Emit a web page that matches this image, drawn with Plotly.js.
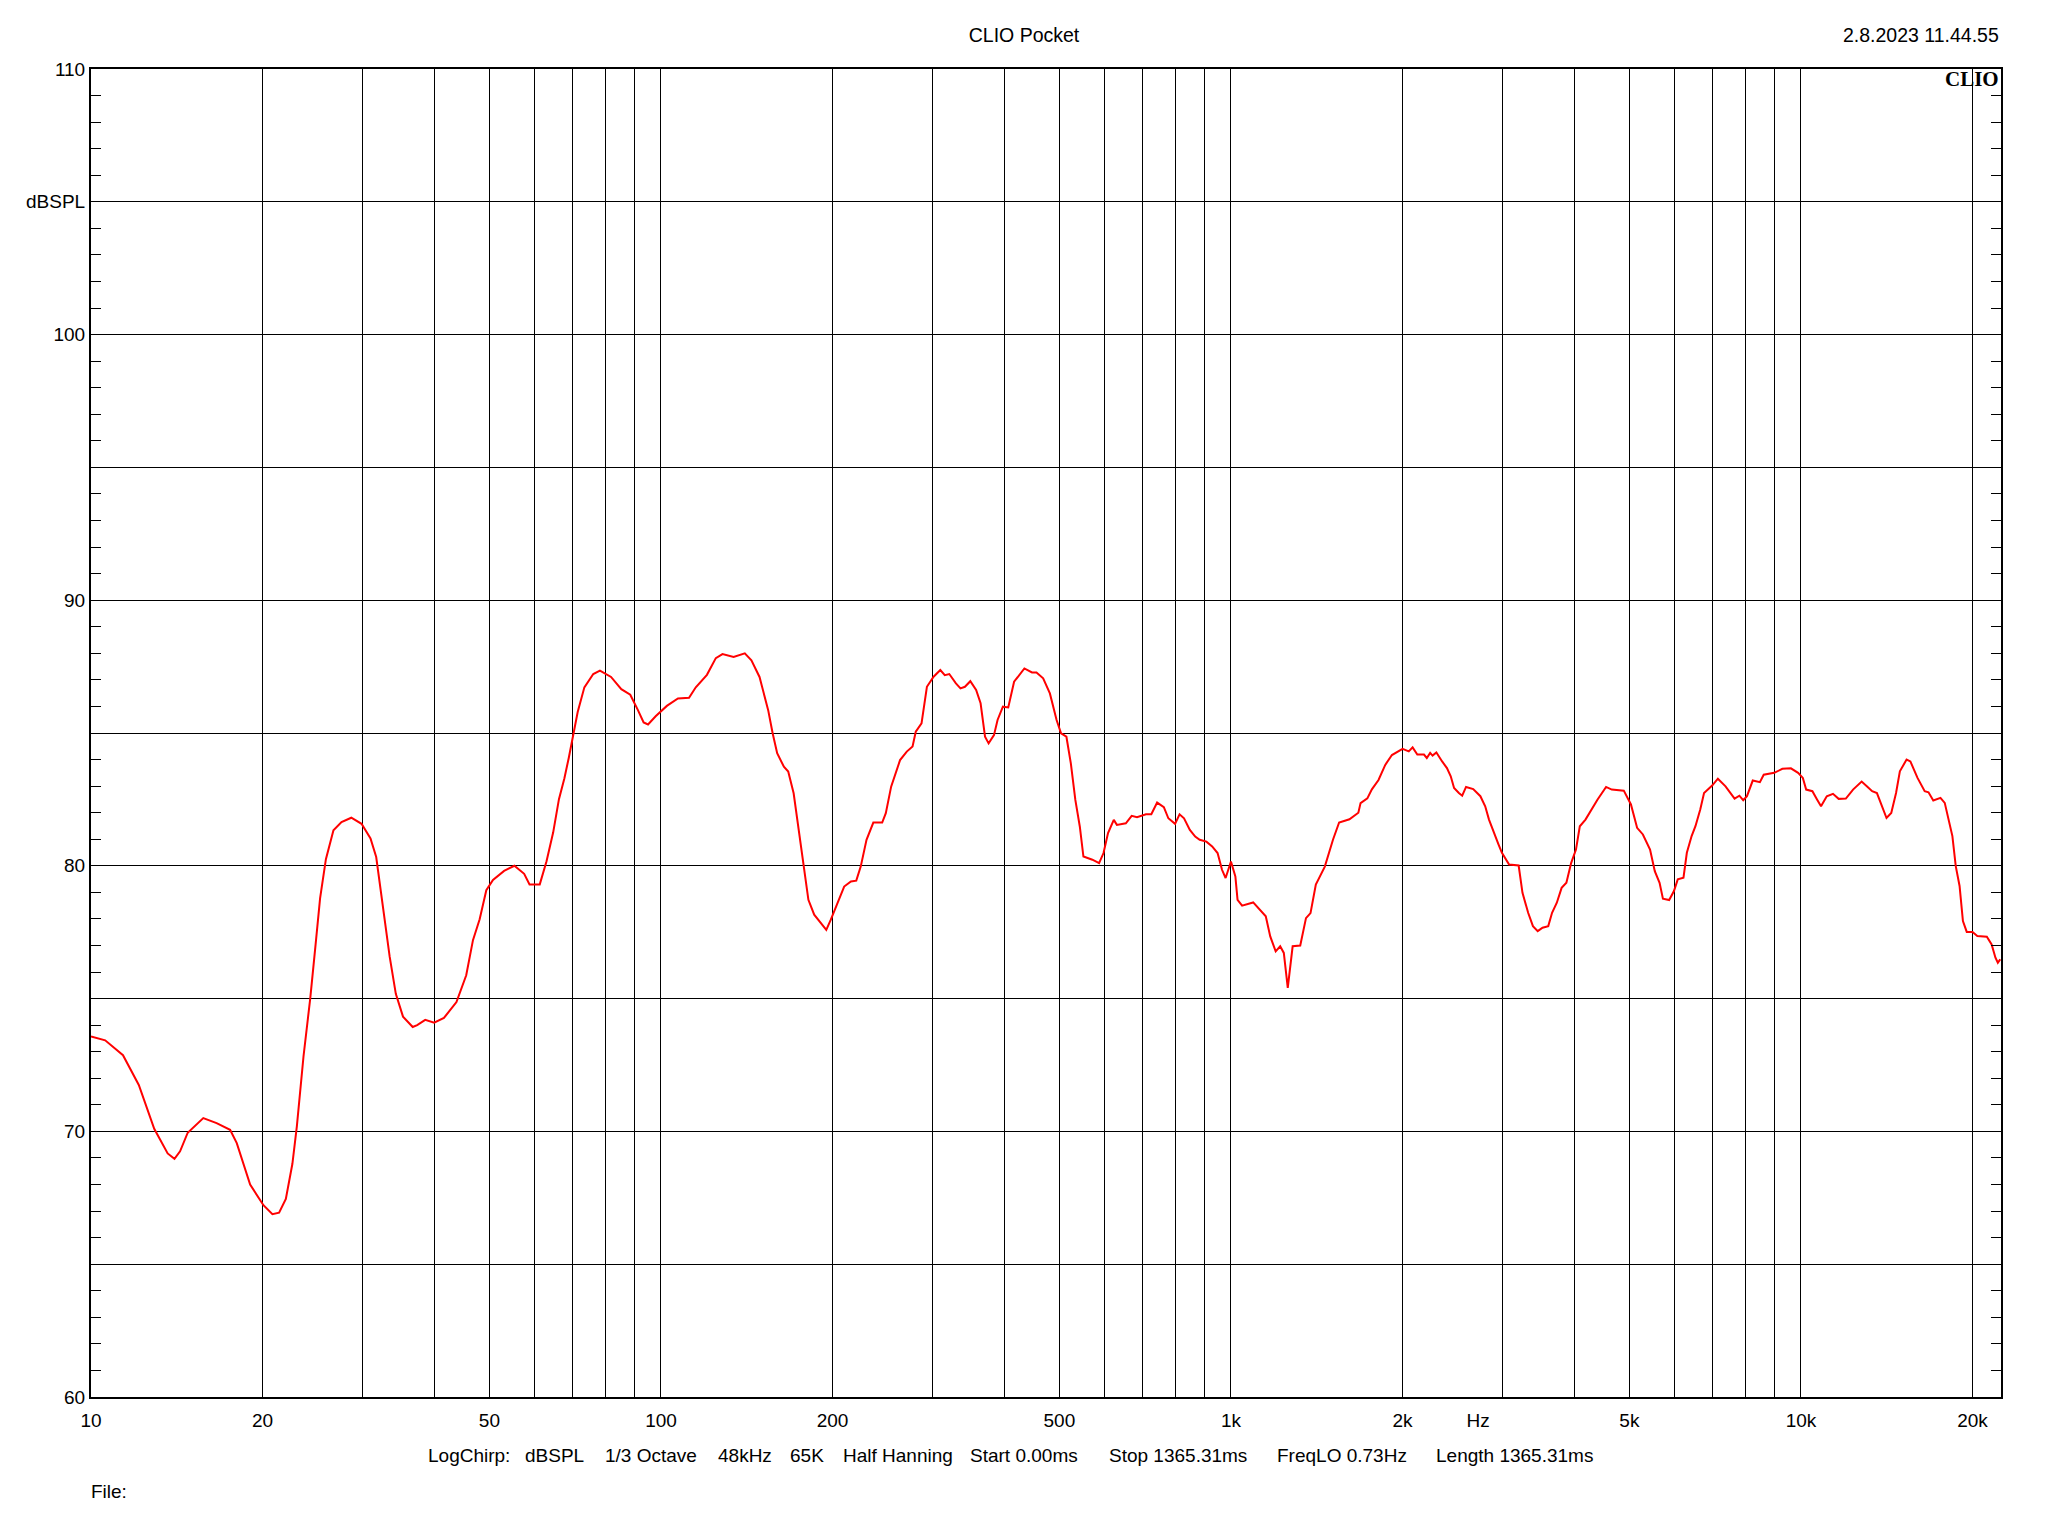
<!DOCTYPE html>
<html>
<head>
<meta charset="utf-8">
<script src="https://cdn.plot.ly/plotly-3.0.1.min.js"></script>
<style>html,body{margin:0;padding:0;background:#fff;}#chart{width:2048px;height:1536px;}</style>
</head>
<body>
<div id="chart"></div>
<script>
// Frequency response (Hz)
const freqHz = [
10.0,10.59,11.38,12.13,12.91,13.63,14.01,14.33,14.78,15.74,16.61,17.54,18.02,19.02,20.07,20.81,21.38,21.97,22.56,22.97,
23.60,24.25,24.78,25.23,25.83,26.63,27.51,28.62,29.83,30.93,31.65,32.34,33.42,34.26,35.27,36.68,37.35,38.58,40.0,41.61,
43.77,45.53,46.79,48.07,49.38,50.73,53.06,55.31,57.54,58.80,61.28,62.98,64.70,66.22,67.68,68.91,70.15,71.43,73.38,76.07,
78.15,81.73,85.19,88.33,91.07,93.23,94.91,97.87,102.4,107.1,112.0,115.1,120.4,124.8,128.2,134.1,140.3,144.1,148.9,
154.2,157.0,159.9,164.3,167.2,170.9,174.0,177.2,178.8,181.4,185.7,189.8,195.0,198.6,204.0,209.6,215.4,220.1,224.1,229.4,
235.8,244.4,248.0,253.4,262.7,269.9,276.3,279.9,286.5,292.8,300.8,309.1,314.7,320.5,329.2,335.3,341.4,348.9,357.2,363.7,
370.3,375.7,383.9,389.5,398.0,406.7,416.4,434.1,447.6,455.8,468.3,481.2,494.4,503.4,514.4,523.7,533.3,543.0,551.0,561.0,
571.3,587.0,597.6,608.6,622.9,630.8,654.0,669.6,684.2,709.4,724.9,742.1,762.5,776.5,797.9,812.5,827.3,847.0,865.5,881.4,
905.5,926.9,947.4,964.5,978.6,1000,1018,1027,1046,1094,1125,1151,1172,1198,1220,1238,1258,1283,1323,1354,
1379,1409,1461,1510,1548,1614,1673,1688,1735,1767,1815,1865,1916,1980,
2000,2051,2083,2123,2181,2206,2236,2258,2293,2347,2393,2430,2463,2511,2545,2585,2661,2739,2793,2836,
2892,2948,2988,3076,3197,3247,3322,3387,3453,3521,3603,3659,3730,3803,3877,3953,4030,4093,4188,4287,
4395,4551,4657,4889,5032,5159,5281,5436,5541,5649,5726,5872,5987,6080,6222,6307,6430,6530,6658,6761,
6986,7150,7374,7649,7798,7920,8041,8231,8472,8604,8978,9276,9603,9886,10078,10214,10474,10678,10845,11100,
11382,11647,11990,12343,12780,13078,13333,13594,13859,14130,14403,14685,14913,15323,15560,16015,16486,16742,17069,17571,
17877,18155,18438,18690,18981,19240,19540,20000,20391,21191,21605,21941,22154,22369
];
// Level (dBSPL)
const splDb = [
73.57,73.43,72.87,71.75,70.1,69.17,68.97,69.25,69.95,70.5,70.31,70.06,69.56,68.0,67.22,66.88,66.94,67.46,68.78,70.19,
72.84,75.02,77.05,78.77,80.25,81.34,81.65,81.81,81.58,81.03,80.33,78.77,76.58,75.18,74.32,73.93,74.0,74.2,74.09,74.27,
74.87,75.88,77.2,77.99,79.08,79.47,79.81,80.0,79.7,79.3,79.3,80.17,81.26,82.51,83.29,84.07,85.0,85.79,86.72,87.22,
87.35,87.11,86.65,86.44,85.87,85.4,85.32,85.63,86.02,86.3,86.33,86.72,87.19,87.82,87.97,87.86,88.0,87.74,87.11,
85.86,84.99,84.24,83.73,83.55,82.73,81.48,80.24,79.72,78.72,78.16,77.91,77.59,77.97,78.6,79.22,79.41,79.44,79.97,80.98,
81.63,81.63,81.98,82.98,83.98,84.30,84.49,85.05,85.36,86.74,87.12,87.37,87.18,87.22,86.87,86.68,86.74,86.95,86.62,86.12,
84.86,84.61,84.92,85.49,85.99,85.96,86.93,87.43,87.28,87.28,87.06,86.49,85.49,84.99,84.86,83.86,82.48,81.48,80.35,80.29,
80.23,80.1,80.48,81.23,81.73,81.54,81.60,81.88,81.83,81.94,81.94,82.38,82.21,81.79,81.58,81.94,81.79,81.35,81.10,80.98,
80.91,80.73,80.48,79.85,79.54,80.16,79.6,78.72,78.50,78.62,78.35,78.10,77.34,76.78,76.97,76.72,75.4,76.97,77.0,78.03,
78.22,79.29,79.97,80.98,81.63,81.75,82.0,82.36,82.54,82.88,83.23,83.80,84.17,84.36,
84.40,84.31,84.46,84.19,84.19,84.06,84.25,84.15,84.27,83.93,83.68,83.37,82.93,82.74,82.64,82.97,82.89,82.62,82.24,81.74,
81.24,80.80,80.49,80.05,80.01,78.98,78.23,77.73,77.54,77.67,77.73,78.23,78.61,79.17,79.36,80.11,80.61,81.49,81.74,82.12,
82.49,82.97,82.87,82.83,82.31,81.43,81.18,80.61,79.80,79.36,78.76,78.71,79.05,79.49,79.55,80.49,81.12,81.49,82.12,82.74,
83.02,83.28,82.99,82.53,82.64,82.47,82.62,83.21,83.15,83.43,83.50,83.65,83.67,83.50,83.31,82.87,82.81,82.49,82.24,82.62,
82.71,82.52,82.53,82.87,83.17,82.98,82.81,82.74,82.24,81.80,81.99,82.74,83.56,84.00,83.93,83.31,82.81,82.77,82.46,82.56,
82.37,81.74,81.12,79.99,79.24,77.92,77.51,77.51,77.36,77.33,77.04,76.54,76.35,76.48
];

// Axis ticks / grid
const xLabelVals = [10,20,50,100,200,500,1000,2000,2713,5000,10000,20000];
const xLabelText = ["10","20","50","100","200","500","1k","2k","Hz","5k","10k","20k"];
const xGridVals = [20,30,40,50,60,70,80,90,100,200,300,400,500,600,700,800,900,1000,2000,3000,4000,5000,6000,7000,8000,9000,10000,20000];
const yTickVals = [60,65,70,75,80,85,90,95,100,105,110];
const yTickText = ["60","","70","","80","","90","","100","dBSPL","110"];

const infoItems = ["LogChirp:","dBSPL","1/3 Octave","48kHz","65K","Half Hanning","Start 0.00ms","Stop 1365.31ms","FreqLO 0.73Hz","Length 1365.31ms"];
const infoPos = [0.17539,0.22618,0.26806,0.32723,0.36492,0.39267,0.45916,0.53194,0.61990,0.70340];

const FONT = "Liberation Sans, Arial, sans-serif";

const annotations = [
  {text:"2.8.2023 11.44.55", xref:"paper", yref:"paper", x:1, y:1.0256, xanchor:"right", yanchor:"middle", showarrow:false, font:{family:FONT,size:19.5,color:"#000"}},
  {text:"<b>CLIO</b>", xref:"paper", yref:"paper", x:1, y:0.9925, xanchor:"right", yanchor:"middle", showarrow:false, font:{family:"Liberation Serif, Times New Roman, serif",size:21,color:"#000"}},
  {text:"File:", xref:"paper", yref:"paper", x:-0.0012, y:-0.0708, xanchor:"left", yanchor:"middle", showarrow:false, font:{family:FONT,size:19,color:"#000"}}
];
infoItems.forEach((t,i)=>annotations.push({text:t, xref:"paper", yref:"paper", x:infoPos[i], y:-0.0444, xanchor:"left", yanchor:"middle", showarrow:false, font:{family:FONT,size:19,color:"#000"}}));

const trace = {x:freqHz, y:splDb, type:"scatter", mode:"lines", line:{color:"#ff0000", width:2}, hoverinfo:"skip"};

const layout = {
  width:2048, height:1536,
  margin:{l:91, r:47, t:69, b:139, pad:0},
  paper_bgcolor:"#ffffff", plot_bgcolor:"#ffffff",
  showlegend:false,
  font:{family:FONT, size:19, color:"#000"},
  title:{text:"CLIO Pocket", xref:"container", yref:"container", x:0.5, y:1-35/1536, xanchor:"center", yanchor:"middle", font:{family:FONT,size:19.5,color:"#000"}},
  xaxis:{
    type:"log", range:[1, 4.351], autorange:false,
    tickmode:"array", tickvals:xLabelVals, ticktext:xLabelText,
    showgrid:false, zeroline:false, ticks:"",
    showline:true, linecolor:"#000", linewidth:2, mirror:true,
    tickfont:{family:FONT,size:19,color:"#000"},
    ticklabelstandoff:5,
    minor:{tickmode:"array", tickvals:xGridVals, showgrid:true, gridcolor:"#000", gridwidth:1, ticks:""}
  },
  yaxis:{
    range:[60,110], autorange:false,
    tickmode:"array", tickvals:yTickVals, ticktext:yTickText,
    showgrid:true, gridcolor:"#000", gridwidth:1, zeroline:false,
    ticks:"inside", ticklen:10, tickwidth:1, tickcolor:"#000",
    showline:true, linecolor:"#000", linewidth:2, mirror:"ticks",
    tickfont:{family:FONT,size:19,color:"#000"},
    ticklabelstandoff:0,
    minor:{dtick:1, tick0:0, ticks:"inside", ticklen:10, tickwidth:1, tickcolor:"#000", showgrid:false}
  },
  annotations:annotations
};

Plotly.newPlot("chart", [trace], layout, {staticPlot:true, displayModeBar:false});
</script>
</body>
</html>
